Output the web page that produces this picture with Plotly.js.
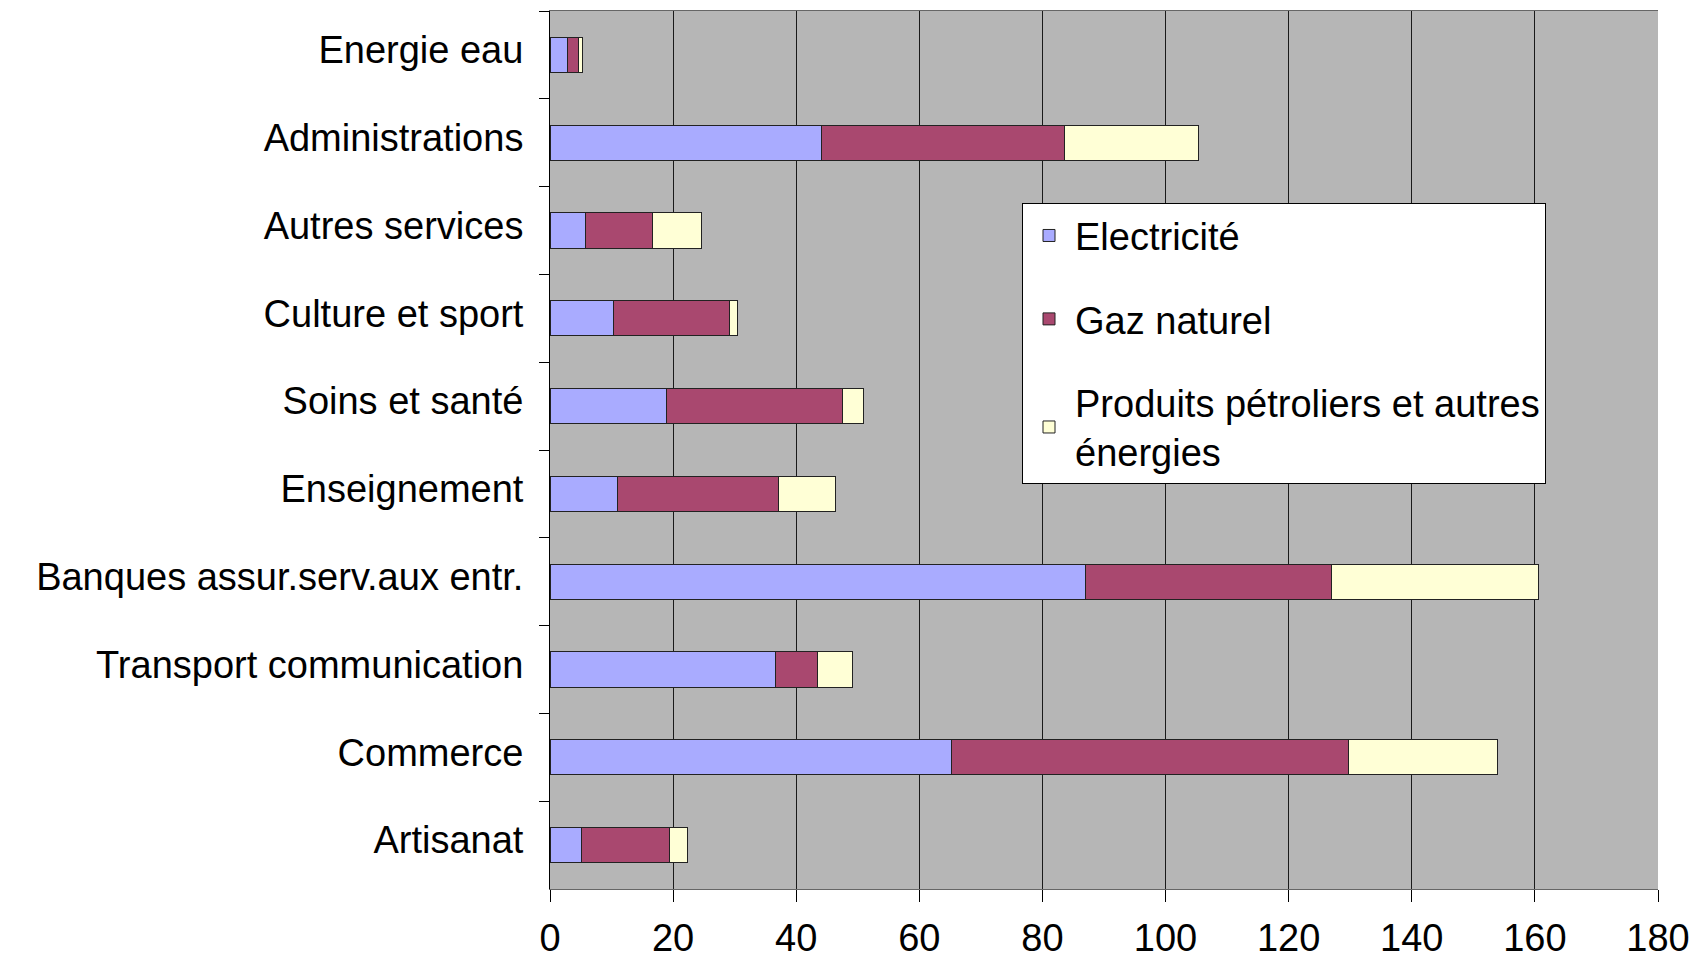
<!DOCTYPE html>
<html>
<head>
<meta charset="utf-8">
<script src="https://cdn.plot.ly/plotly-3.0.1.min.js"></script>
<style>
html, body { margin: 0; padding: 0; background: #ffffff; }
#chart { width: 1699px; height: 958px; }
</style>
</head>
<body>
<div id="chart"></div>
<script>
var categories = ["Energie eau", "Administrations", "Autres services", "Culture et sport",
  "Soins et santé", "Enseignement", "Banques assur.serv.aux entr.",
  "Transport communication", "Commerce", "Artisanat"];
var seriesNames = ["Electricité", "Gaz naturel", "Produits pétroliers et autres<br>énergies"];
var electricite = [2.9, 44.1, 5.8, 10.3, 18.9, 10.9, 87.0, 36.6, 65.2, 5.1];
var gazNaturel  = [1.7, 39.5, 10.9, 18.8, 28.6, 26.3, 40.0, 6.8, 64.6, 14.3];
var petrole     = [0.6, 21.7, 7.9, 1.3, 3.4, 9.1, 33.6, 5.7, 24.1, 3.0];
var xTicks = [0, 20, 40, 60, 80, 100, 120, 140, 160, 180];

var colors = ["#a9abff", "#a9486f", "#ffffd6"];
var values = [electricite, gazNaturel, petrole];

var traces = values.map(function (v, i) {
  return {
    type: "bar",
    orientation: "h",
    name: seriesNames[i],
    x: v,
    y: categories,
    legendgroup: "g" + i,
    marker: { color: colors[i], line: { color: "#222222", width: 1 } },
    hoverinfo: "x+y+name"
  };
});

var fontFam = "Liberation Sans, Arial, sans-serif";
var layout = {
  width: 1699,
  height: 958,
  barmode: "stack",
  bargap: 0.6,
  paper_bgcolor: "#ffffff",
  plot_bgcolor: "#b6b6b6",
  margin: { l: 550, r: 41, t: 11, b: 69, pad: 0 },
  font: { family: fontFam, size: 38, color: "#000000" },
  xaxis: {
    range: [0, 180],
    tickvals: xTicks,
    ticktext: xTicks.map(String),
    showgrid: true,
    gridcolor: "#1a1a1a",
    gridwidth: 1,
    zeroline: false,
    showline: true,
    linecolor: "#666666",
    linewidth: 1,
    mirror: true,
    ticks: "outside",
    ticklen: 12,
    tickcolor: "#000000",
    tickwidth: 1,
    ticklabelstandoff: 3,
    tickfont: { family: fontFam, size: 38, color: "#000000" },
    fixedrange: true
  },
  yaxis: {
    type: "category",
    autorange: "reversed",
    showgrid: false,
    zeroline: false,
    showline: true,
    linecolor: "#000000",
    linewidth: 1,
    ticks: "outside",
    tickson: "boundaries",
    ticklen: 10,
    tickcolor: "#000000",
    tickwidth: 1,
    ticklabelstandoff: 18,
    ticklabelshift: 5,
    tickfont: { family: fontFam, size: 38, color: "#000000" },
    fixedrange: true
  },
  showlegend: true,
  legend: {
    x: 0.426,
    y: 0.781,
    xanchor: "left",
    yanchor: "top",
    bgcolor: "#ffffff",
    bordercolor: "#000000",
    borderwidth: 1,
    traceorder: "grouped",
    tracegroupgap: 31,
    font: { family: fontFam, size: 38, color: "#000000" },
    itemwidth: 42
  }
};

Plotly.newPlot("chart", traces, layout, { displayModeBar: false, staticPlot: true });
</script>
</body>
</html>
